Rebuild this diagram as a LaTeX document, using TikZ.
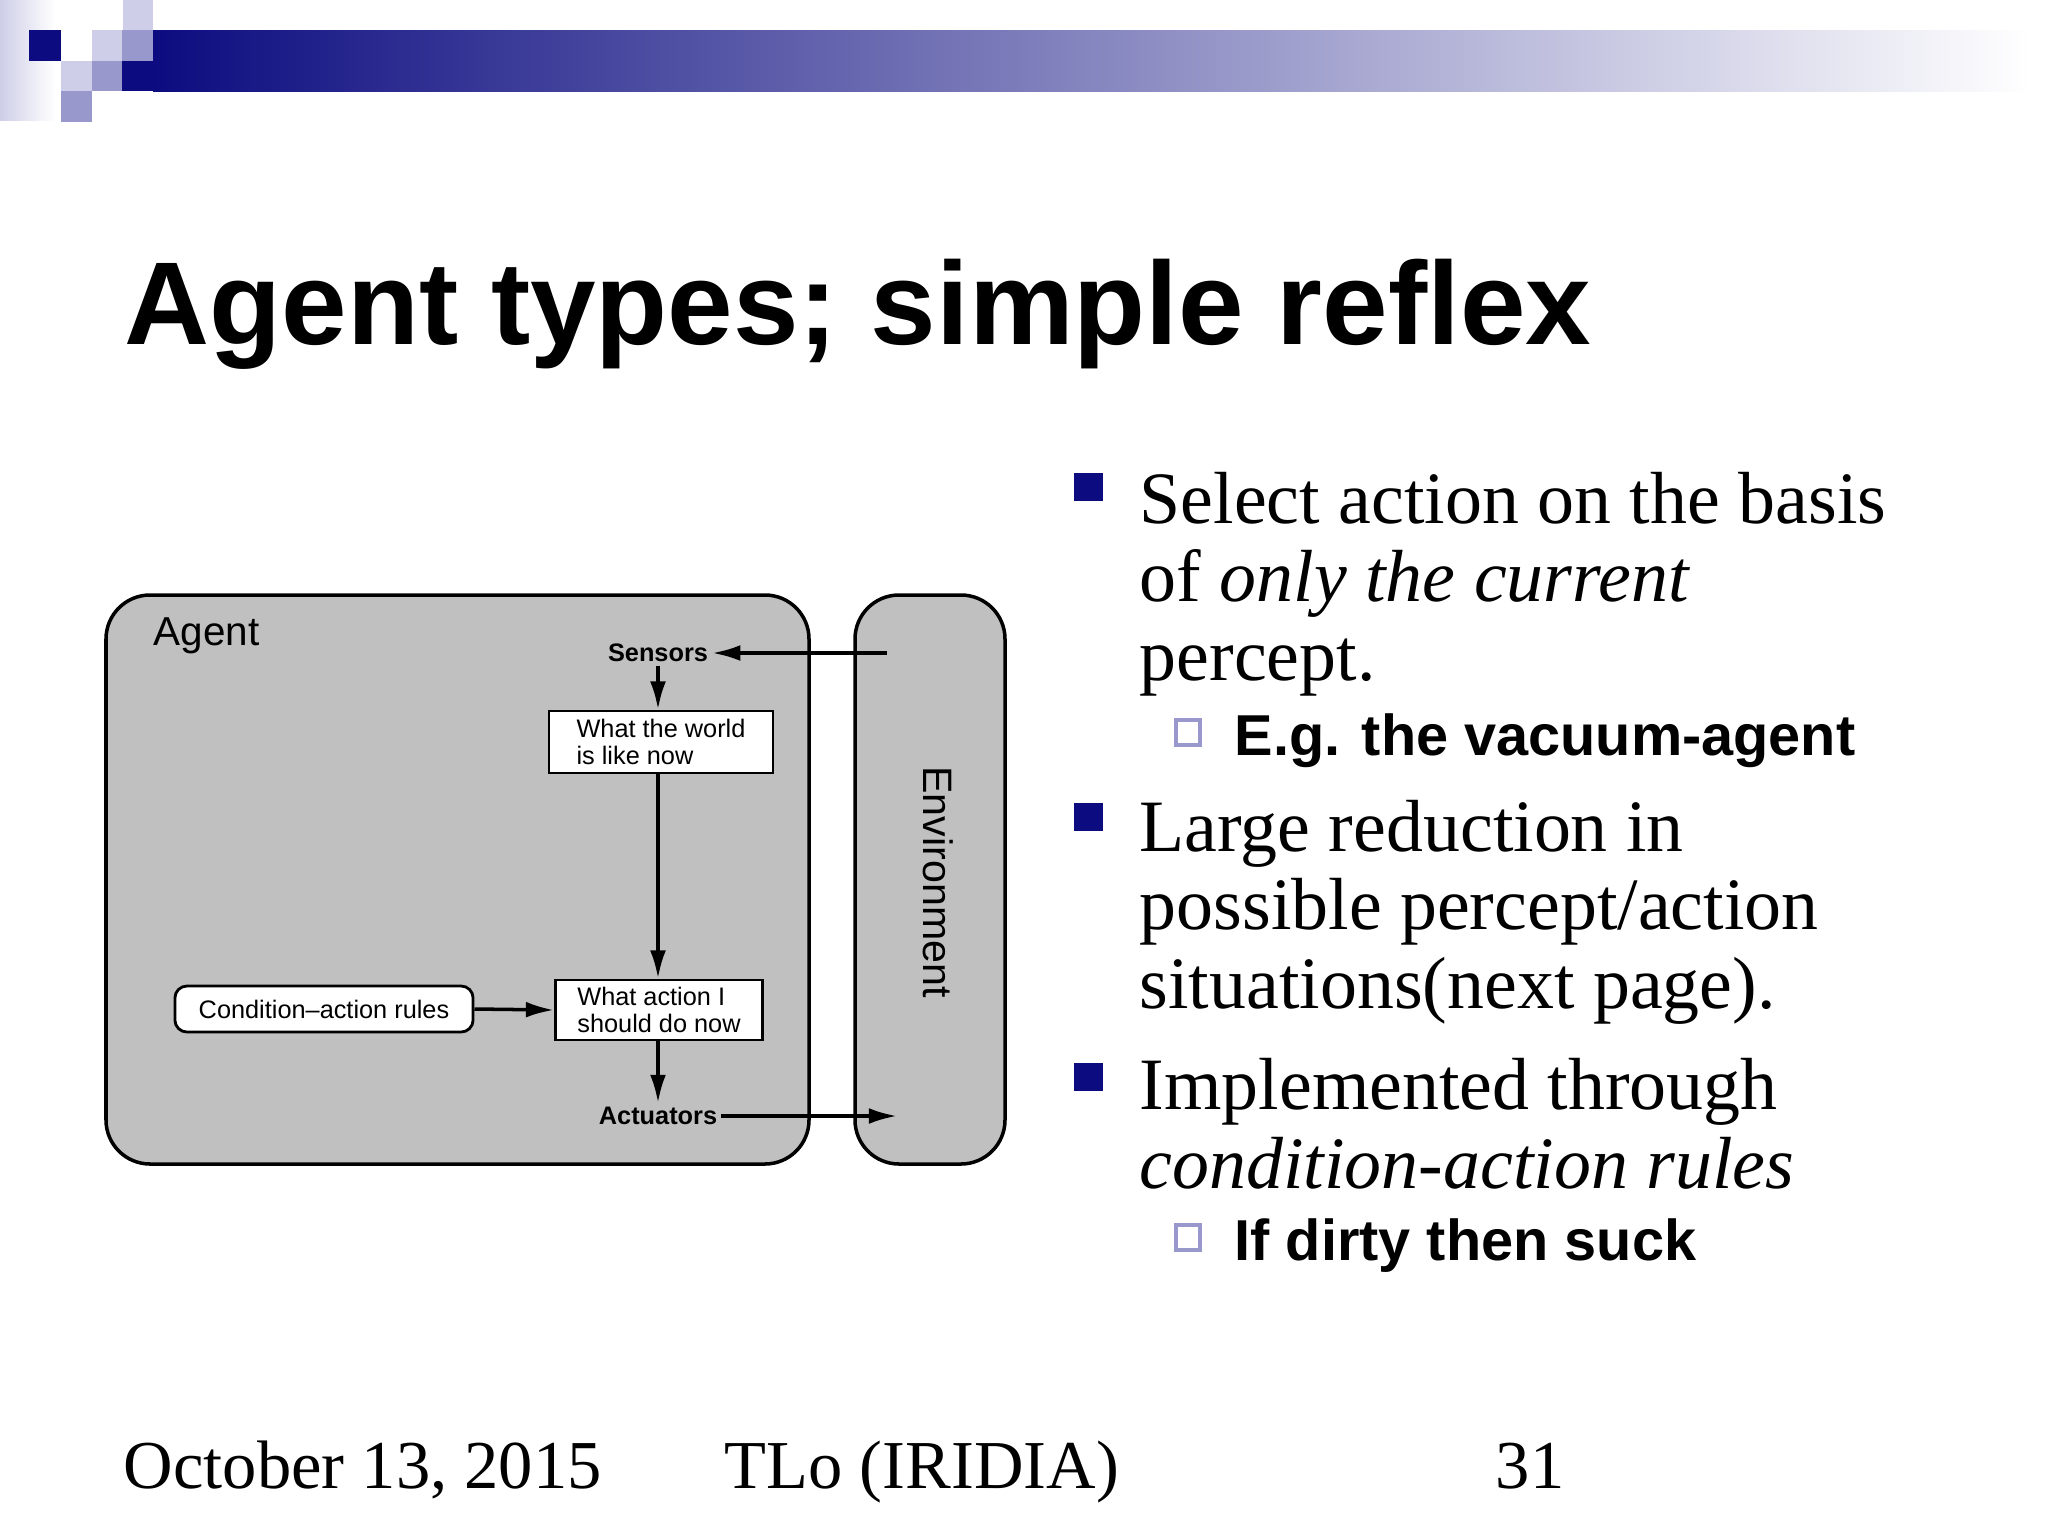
\documentclass[tikz,border=0pt]{standalone}
\usepackage{fontspec}
\setmainfont{Liberation Serif}
\setsansfont{Liberation Sans}
\usetikzlibrary{arrows.meta}
\definecolor{navy}{RGB}{12,12,128}
\definecolor{lav}{RGB}{206,206,232}
\definecolor{mlav}{RGB}{152,152,204}
\definecolor{gbox}{RGB}{192,192,192}
\begin{document}
\begin{tikzpicture}[x=0.01cm,y=-0.01cm,
  box/.style={draw,fill=white,line width=0.8pt,align=left,font=\sffamily\fontsize{7.2}{7.8}\selectfont,inner sep=2pt},
  arr/.style={-{Latex[length=8pt,width=4.5pt]},line width=1pt},
  big/.style={anchor=base west,inner sep=0,font=\fontsize{21}{24}\selectfont},
  foot/.style={anchor=base west,inner sep=0,font=\fontsize{19.5}{22}\selectfont},
  sub/.style={anchor=base west,inner sep=0,font=\sffamily\bfseries\fontsize{16.4}{18}\selectfont},
  bul/.style={fill=navy},hbul/.style={draw=mlav,line width=1pt}]
\useasboundingbox (0,0) rectangle (2048,1536);
% header
\shade[left color=lav,right color=white] (0,0) rectangle (55,120);
\shade[left color=navy,right color=white] (153,30) rectangle (2030,91);
\fill[navy] (122,61) rectangle (153,91);
\fill[navy] (29,30) rectangle (61,61);
\fill[lav] (123,0) rectangle (153,30);
\fill[lav] (92,30) rectangle (122,61);
\fill[mlav] (122,30) rectangle (153,61);
\fill[lav] (61,61) rectangle (92,91);
\fill[mlav] (92,61) rectangle (122,91);
\fill[mlav] (61,91) rectangle (92,122);
% title
\node[anchor=base west,inner sep=0,font=\sffamily\bfseries\fontsize{33.5}{38}\selectfont] (title) at (124,344) {Agent types; simple reflex};
% diagram
\draw[fill=gbox,line width=1pt,rounded corners=0.44cm] (106,595) rectangle (809,1164);
\draw[fill=gbox,line width=1pt,rounded corners=0.44cm] (855,595) rectangle (1005,1164);
\node[anchor=west,font=\sffamily\fontsize{11.5}{13}\selectfont,inner sep=0] (agent) at (153,636) {Agent};
\node[anchor=center,rotate=-90,font=\sffamily\fontsize{11.7}{13}\selectfont] (env) at (938,882) {Environment};
\node[font=\sffamily\bfseries\fontsize{7.2}{8}\selectfont,inner sep=1pt] (sens) at (658,653) {Sensors};
\coordinate (envin) at (887,653);
\node[box,minimum width=2.24cm,minimum height=0.62cm] (world) at (661,742) {What the world\\is like now};
\node[box,minimum width=2.07cm,minimum height=0.6cm] (act) at (659,1010) {What action I\\should do now};
\node[draw,fill=white,rounded corners=0.12cm,line width=0.8pt,minimum width=2.98cm,minimum height=0.46cm,font=\sffamily\fontsize{7.2}{8}\selectfont] (rules) at (324,1009) {Condition--action rules};
\node[font=\sffamily\bfseries\fontsize{7.2}{8}\selectfont,inner sep=1pt] (actu) at (658,1116) {Actuators};
\coordinate (envout) at (897,1116);
\draw[arr] (envin) -- (sens.east);
\draw[arr] (sens.south) -- (world.north -| sens.south);
\draw[arr] (world.south -| sens.south) -- (act.north -| sens.south);
\draw[arr] (rules.east) -- (act.west);
\draw[arr] (act.south -| sens.south) -- (actu.north);
\draw[arr] (actu.east) -- (envout);
% bullets
\fill[bul] (1074,473) rectangle (1103,501);
\node[big] (b1a) at (1139,523) {Select action on the basis};
\node[big] (b1b) at (1139,601) {of \textit{only the current}};
\node[big] (b1c) at (1139,680) {percept.};
\draw[hbul] (1176,720) rectangle (1200,745);
\node[sub] (s1) at (1234,755) {E.g. the vacuum-agent};
\fill[bul] (1074,803) rectangle (1103,831);
\node[big] (b2a) at (1139,851) {Large reduction in};
\node[big] (b2b) at (1139,929) {possible percept/action};
\node[big] (b2c) at (1139,1008) {situations(next page).};
\fill[bul] (1074,1063) rectangle (1103,1091);
\node[big] (b3a) at (1139,1109) {Implemented through};
\node[big] (b3b) at (1139,1188) {\textit{condition-action rules}};
\draw[hbul] (1176,1225) rectangle (1200,1250);
\node[sub] (s2) at (1234,1260) {If dirty then suck};
% footer
\node[foot] (date) at (123,1488) {October 13, 2015};
\node[foot] (auth) at (724,1488) {TLo (IRIDIA)};
\node[foot] (pg) at (1495,1488) {31};
\end{tikzpicture}
\end{document}
